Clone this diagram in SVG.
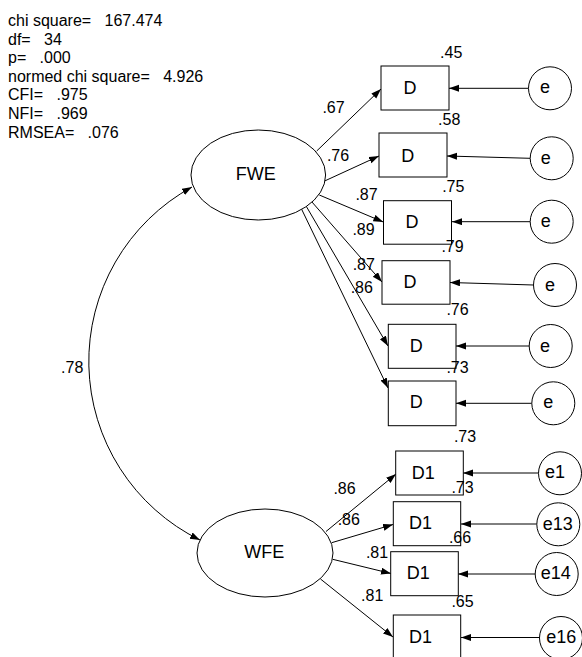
<svg xmlns="http://www.w3.org/2000/svg" width="582" height="657" viewBox="0 0 582 657">
<style>
text{font-family:"Liberation Sans",Arial,sans-serif;fill:#000}
.st{font-size:16px;white-space:pre}
.lb{font-size:16px;text-anchor:middle}
.nd{font-size:18px;text-anchor:middle}
.sh{fill:#fff;stroke:#000;stroke-width:1}
.ln{fill:none;stroke:#000;stroke-width:1}
</style>
<defs>
<marker id="ah" markerUnits="userSpaceOnUse" markerWidth="10" markerHeight="8" refX="10" refY="3.5" orient="auto-start-reverse">
<path d="M0,0 L10,3.5 L0,7 z" fill="#000"/>
</marker>
</defs>
<rect width="582" height="657" fill="#fff"/>
<g id="stats">
<text class="st" x="8" y="26">chi square=   167.474</text>
<text class="st" x="8" y="44.6">df=   34</text>
<text class="st" x="8" y="63.2">p=   .000</text>
<text class="st" x="8" y="81.8">normed chi square=   4.926</text>
<text class="st" x="8" y="100.4">CFI=   .975</text>
<text class="st" x="8" y="119">NFI=   .969</text>
<text class="st" x="8" y="137.6">RMSEA=   .076</text>
</g>
<g id="connectors">
<path class="ln" d="M192,187 A199,199 0 0 0 200,540" marker-start="url(#ah)" marker-end="url(#ah)"/>
<line class="ln" x1="316.7" y1="151" x2="381" y2="89" marker-end="url(#ah)"/>
<line class="ln" x1="323.5" y1="181.5" x2="379" y2="156" marker-end="url(#ah)"/>
<line class="ln" x1="319.3" y1="195" x2="383.3" y2="222" marker-end="url(#ah)"/>
<line class="ln" x1="311.7" y1="201.7" x2="382" y2="282" marker-end="url(#ah)"/>
<line class="ln" x1="305.5" y1="205" x2="388" y2="346" marker-end="url(#ah)"/>
<line class="ln" x1="300.7" y1="207.3" x2="388" y2="388" marker-end="url(#ah)"/>
<line class="ln" x1="326" y1="531.5" x2="396" y2="474" marker-end="url(#ah)"/>
<line class="ln" x1="331.7" y1="542.7" x2="393" y2="524.5" marker-end="url(#ah)"/>
<line class="ln" x1="332.7" y1="559.3" x2="391" y2="573.5" marker-end="url(#ah)"/>
<line class="ln" x1="320.5" y1="579" x2="393" y2="637" marker-end="url(#ah)"/>
<line class="ln" x1="528.5" y1="88.3" x2="449" y2="88.3" marker-end="url(#ah)"/>
<line class="ln" x1="530" y1="158.3" x2="447" y2="156" marker-end="url(#ah)"/>
<line class="ln" x1="530" y1="221.7" x2="452" y2="221.7" marker-end="url(#ah)"/>
<line class="ln" x1="533.5" y1="285" x2="450" y2="282.5" marker-end="url(#ah)"/>
<line class="ln" x1="529" y1="346" x2="456" y2="346" marker-end="url(#ah)"/>
<line class="ln" x1="531.8" y1="403.3" x2="456" y2="403.3" marker-end="url(#ah)"/>
<line class="ln" x1="538.5" y1="473" x2="463" y2="473" marker-end="url(#ah)"/>
<line class="ln" x1="536.8" y1="524" x2="461" y2="524" marker-end="url(#ah)"/>
<line class="ln" x1="535.2" y1="574" x2="458" y2="574" marker-end="url(#ah)"/>
<line class="ln" x1="539.5" y1="637.5" x2="461" y2="637.5" marker-end="url(#ah)"/>
</g>
<g id="labels">
<text class="lb" x="72.2" y="372.7">.78</text>
<text class="lb" x="333.5" y="113.3">.67</text>
<text class="lb" x="338" y="160.7">.76</text>
<text class="lb" x="366.5" y="199.5">.87</text>
<text class="lb" x="363.5" y="235">.89</text>
<text class="lb" x="363.8" y="270">.87</text>
<text class="lb" x="361.8" y="292.7">.86</text>
<text class="lb" x="344.5" y="494">.86</text>
<text class="lb" x="348.8" y="525">.86</text>
<text class="lb" x="377" y="558.3">.81</text>
<text class="lb" x="372.2" y="601">.81</text>
</g>
<g id="FWE"><ellipse class="sh" cx="258.3" cy="175" rx="67.3" ry="45"/><text class="nd" x="255.8" y="180">FWE</text></g>
<g id="WFE"><ellipse class="sh" cx="265" cy="553" rx="68" ry="44"/><text class="nd" x="264.3" y="557.7">WFE</text></g>
<g id="D_1"><rect class="sh" x="381" y="66" width="68" height="44"/><text class="nd" x="410" y="94.3">D</text><text class="lb" x="451.2" y="58.3">.45</text></g>
<g id="D_2"><rect class="sh" x="379" y="133" width="68" height="44"/><text class="nd" x="407.7" y="161.7">D</text><text class="lb" x="449.2" y="125">.58</text></g>
<g id="D_3"><rect class="sh" x="383.5" y="200.7" width="68" height="43.5"/><text class="nd" x="412" y="228.3">D</text><text class="lb" x="453.3" y="191.7">.75</text></g>
<g id="D_4"><rect class="sh" x="382" y="260.7" width="68" height="43.5"/><text class="nd" x="410" y="288.3">D</text><text class="lb" x="452.5" y="251.7">.79</text></g>
<g id="D_5"><rect class="sh" x="388.3" y="324.3" width="67.7" height="44"/><text class="nd" x="416.3" y="351.7">D</text><text class="lb" x="457.5" y="315">.76</text></g>
<g id="D_6"><rect class="sh" x="388.3" y="381" width="67.7" height="44.7"/><text class="nd" x="416.3" y="408.3">D</text><text class="lb" x="457.5" y="372.7">.73</text></g>
<g id="D1_1"><rect class="sh" x="395.7" y="451" width="67.6" height="44"/><text class="nd" x="423.3" y="479.3">D1</text><text class="lb" x="465" y="441.7">.73</text></g>
<g id="D1_2"><rect class="sh" x="393.3" y="501.7" width="67.4" height="44"/><text class="nd" x="420.5" y="529.3">D1</text><text class="lb" x="462.5" y="493.3">.73</text></g>
<g id="D1_3"><rect class="sh" x="390.7" y="551.7" width="67.6" height="44"/><text class="nd" x="418.3" y="579.3">D1</text><text class="lb" x="460" y="542.7">.66</text></g>
<g id="D1_4"><rect class="sh" x="393.3" y="615" width="67.4" height="50"/><text class="nd" x="420.5" y="642.7">D1</text><text class="lb" x="462.5" y="606.7">.65</text></g>
<g id="e_1"><circle class="sh" cx="550" cy="88.3" r="21.5"/><text class="nd" x="545" y="93.3">e</text></g>
<g id="e_2"><circle class="sh" cx="551.7" cy="158.3" r="21.5"/><text class="nd" x="545.7" y="164">e</text></g>
<g id="e_3"><circle class="sh" cx="551.7" cy="221.7" r="21.5"/><text class="nd" x="545.7" y="226.7">e</text></g>
<g id="e_4"><circle class="sh" cx="555" cy="285" r="21.5"/><text class="nd" x="550" y="290.7">e</text></g>
<g id="e_5"><circle class="sh" cx="550.7" cy="346" r="21.5"/><text class="nd" x="545" y="351.7">e</text></g>
<g id="e_6"><circle class="sh" cx="553.3" cy="403.3" r="21.5"/><text class="nd" x="548.3" y="408.3">e</text></g>
<g id="e1"><circle class="sh" cx="560" cy="473.3" r="21.5"/><text class="nd" x="555" y="478.3">e1</text></g>
<g id="e13"><circle class="sh" cx="558.3" cy="524.3" r="21.5"/><text class="nd" x="557.7" y="530">e13</text></g>
<g id="e14"><circle class="sh" cx="556.7" cy="574" r="21.5"/><text class="nd" x="555.8" y="579.3">e14</text></g>
<g id="e16"><circle class="sh" cx="561" cy="638" r="21.5"/><text class="nd" x="561.3" y="642.7">e16</text></g>
</svg>
